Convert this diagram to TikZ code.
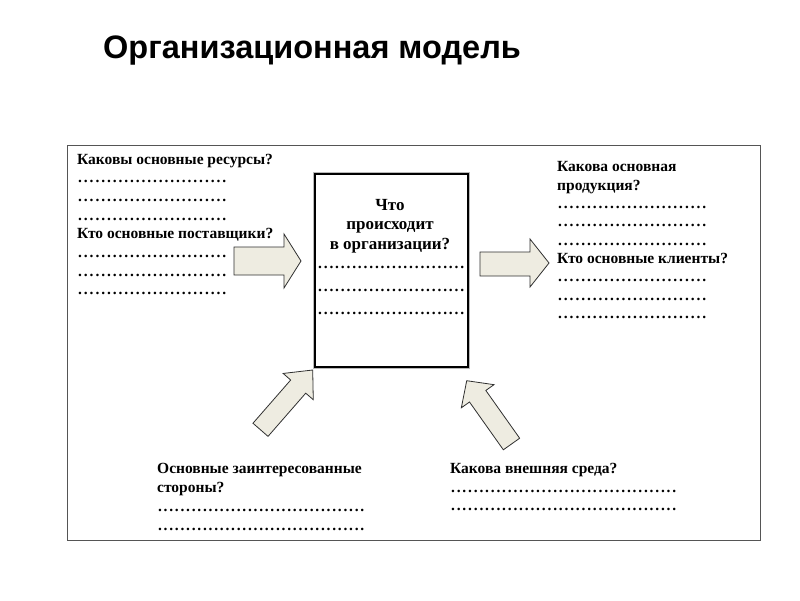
\documentclass[tikz,border=0pt]{standalone}
\usepackage{fontspec}
\setmainfont{Liberation Serif}
\newfontfamily\titlefont{Liberation Sans}
\definecolor{arrowfill}{HTML}{EEECE1}
\definecolor{arrowline}{HTML}{303030}
\definecolor{framecol}{HTML}{555555}
\newcommand\dotline[1]{\hbox to #1pt{\xleaders\hbox to 5.6pt{\hss.\hss}\hfill}}
\begin{document}
\begin{tikzpicture}[x=1pt,y=-1pt,
  txt/.style={inner sep=0pt, anchor=base west, font=\fontsize{15.5}{18}\selectfont\bfseries},
  ctxt/.style={inner sep=0pt, anchor=base, font=\fontsize{17}{20}\selectfont\bfseries},
  cdots/.style={inner sep=0pt, anchor=base west, font=\fontsize{15.5}{18}\selectfont\bfseries},
  arrowshape/.style={fill=arrowfill, draw=arrowline, line width=0.8pt, line join=miter},
  centerbox/.style={draw=black, line width=1.6pt, fill=white, inner sep=0pt,
    preaction={draw=gray!55, line width=3.6pt}},
]
\useasboundingbox (0,0) rectangle (800,600);
\fill[white] (0,0) rectangle (800,600);

% title
\node[inner sep=0pt, anchor=base west, font=\titlefont\fontsize{32.5}{36}\selectfont\bfseries] (title) at (103,58.5) {Организационная модель};

% outer frame
\draw[framecol, line width=1pt] (67,145) rectangle (760,540);

% central box
\node[centerbox, anchor=north west, minimum width=153pt, minimum height=193pt] (box) at (314,173) {};
\node[ctxt] (c1) at (390,210) {Что};
\node[ctxt] (c2) at (390,229.5) {происходит};
\node[ctxt] (c3) at (390,249.5) {в организации?};
\node[cdots] (c4) at (317,268.5) {\dotline{148}};
\node[cdots] (c5) at (317,291.5) {\dotline{148}};
\node[cdots] (c6) at (317,314) {\dotline{148}};

% left text
\node[txt] (l1) at (77,164) {Каковы основные ресурсы?};
\node[txt] (l2) at (77,182.7) {\dotline{150}};
\node[txt] (l3) at (77,201.4) {\dotline{150}};
\node[txt] (l4) at (77,220.1) {\dotline{150}};
\node[txt] (l5) at (77,238.8) {Кто основные поставщики?};
\node[txt] (l6) at (77,257.5) {\dotline{150}};
\node[txt] (l7) at (77,276.2) {\dotline{150}};
\node[txt] (l8) at (77,294.9) {\dotline{150}};

% right text
\node[txt] (r1) at (557,171.7) {Какова основная};
\node[txt] (r2) at (557,190) {продукция?};
\node[txt] (r3) at (557,208.4) {\dotline{150}};
\node[txt] (r4) at (557,226.7) {\dotline{150}};
\node[txt] (r5) at (557,245.1) {\dotline{150}};
\node[txt] (r6) at (557,263.4) {Кто основные клиенты?};
\node[txt] (r7) at (557,281.8) {\dotline{150}};
\node[txt] (r8) at (557,300.1) {\dotline{150}};
\node[txt] (r9) at (557,318.5) {\dotline{150}};

% bottom-left text
\node[txt] (bl1) at (157,473.6) {Основные заинтересованные};
\node[txt] (bl2) at (157,492.6) {стороны?};
\node[txt] (bl3) at (157,511.6) {\dotline{208}};
\node[txt] (bl4) at (157,530.6) {\dotline{208}};

% bottom-right text
\node[txt] (br1) at (450,473.6) {Какова внешняя среда?};
\node[txt] (br2) at (450,492.2) {\dotline{227}};
\node[txt] (br3) at (450,510.8) {\dotline{227}};

% arrows
\draw[arrowshape] (234,247) -- (284,247) -- (284,234) -- (301,261) -- (284,288) -- (284,275) -- (234,275) -- cycle;
\draw[arrowshape] (480,252) -- (530,252) -- (530,239) -- (549,263) -- (530,287) -- (530,276) -- (480,276) -- cycle;
\draw[arrowshape] (252.97,423.23) -- (290.68,380.01) -- (283.15,373.44) -- (312.7,370) -- (313.27,399.72) -- (305.74,393.15) -- (268.03,436.37) -- cycle;
\draw[arrowshape] (519.66,438.22) -- (485.82,390.44) -- (493.98,384.66) -- (466.7,380.7) -- (461.34,407.78) -- (469.5,402.0) -- (503.34,449.78) -- cycle;
\end{tikzpicture}
\end{document}
